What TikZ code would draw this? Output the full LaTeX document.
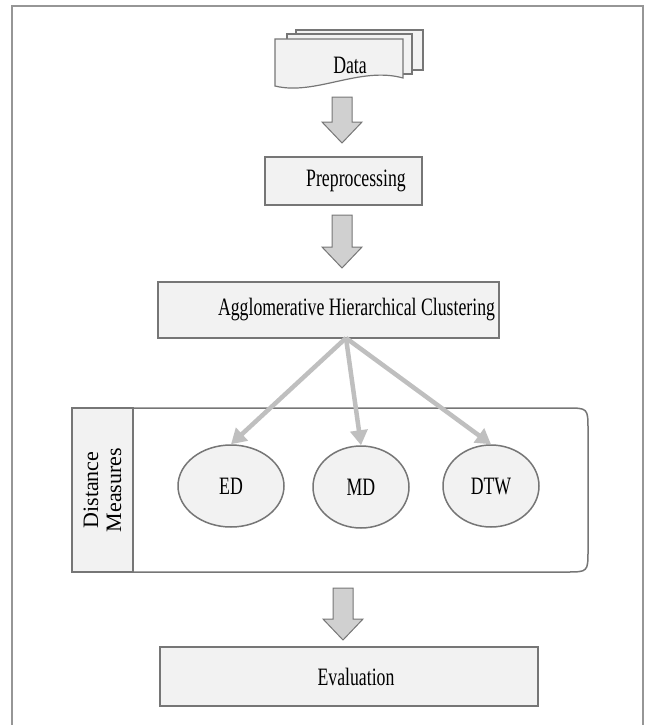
\documentclass[tikz,border=0pt]{standalone}
\usepackage{fontspec}
\setmainfont{Liberation Serif}[FakeStretch=0.71]
\newfontfamily\uprightserif{Liberation Serif}
\usetikzlibrary{arrows.meta,shapes.geometric,calc,positioning}
\definecolor{boxfill}{RGB}{242,242,242}
\definecolor{boxline}{RGB}{118,118,118}
\definecolor{arrowfill}{RGB}{208,208,208}
\definecolor{fanline}{RGB}{191,191,191}
\definecolor{frameline}{RGB}{150,150,150}
\tikzset{
  txt/.style={font=\fontsize{25}{27}\selectfont},
  procbox/.style={draw=boxline, fill=boxfill, line width=1.5pt, inner sep=0pt},
  oval/.style={ellipse, draw=boxline, fill=boxfill, line width=1.5pt, inner sep=0pt, txt},
  sheet/.style={draw=boxline, fill=boxfill, line width=1.2pt},
  blockarrow/.style={draw=boxline, fill=arrowfill, line width=1pt},
  fanarrow/.style={fanline, line width=4.5pt, -{Triangle[length=15pt,width=17pt]}}
}
\newcommand{\blockarrow}[2]{%
  \draw[blockarrow] ($(#1)+(-10,0)$) -- ($(#1)+(10,0)$) -- ($(#2)+(10,-21)$)
    -- ($(#2)+(20,-21)$) -- (#2) -- ($(#2)+(-20,-21)$) -- ($(#2)+(-10,-21)$) -- cycle;}

\begin{document}
\begin{tikzpicture}[x=1pt,y=-1pt]
\useasboundingbox (0,0) rectangle (646,725);
% Frame
\draw[frameline, line width=1.5pt] (12,725) -- (12,6) -- (643,6) -- (643,725);

% Data (stack of documents)
\draw[sheet] (296,30) rectangle (423,70);
\draw[sheet] (287,34) rectangle (412,74);
\draw[sheet] (275,39) -- (403,39) -- (403,78) .. controls (360,66) and (315,96) .. (275,86) -- cycle;
\node[txt] (data) at (350,65) {Data};

% Steps
\node[procbox, minimum width=157pt, minimum height=48pt,
  label={[txt, xshift=12.5pt]center:Preprocessing}] (prep) at (343.5,181) {};
\node[procbox, minimum width=341pt, minimum height=56pt,
  label={[txt, xshift=28pt]center:Agglomerative Hierarchical Clustering}] (ahc) at (328.5,310) {};
\node[procbox, minimum width=378pt, minimum height=59pt,
  label={[txt, xshift=7pt]center:Evaluation}] (eval) at (349,676.5) {};

% Block arrows
\coordinate (a1top) at (342,97);  \coordinate (a1tip) at (342,143);
\coordinate (a2top) at (342,215); \coordinate (a2tip) at (342,268);
\coordinate (a3top) at (343,588); \coordinate (a3tip) at (343,640);
\blockarrow{a1top}{a1tip}
\blockarrow{a2top}{a2tip}
\blockarrow{a3top}{a3tip}

% Distance measures panel
\draw[draw=boxline, fill=white, line width=1.5pt] (72,408) -- (566,408) .. controls (588,408) .. (588,430)
  -- (588,550) .. controls (588,572) .. (566,572) -- (72,572) -- cycle;
\node[procbox, minimum width=61pt, minimum height=164pt] (dmlabel) at (102.5,490) {};
\node[rotate=90, align=center, font=\uprightserif\fontsize{22}{23}\selectfont] at (dmlabel.center) {Distance\\Measures};

\node[oval, minimum width=106pt, minimum height=82pt] (ed) at (231,486) {ED};
\node[oval, minimum width=96pt, minimum height=82pt] (md) at (361,487) {MD};
\node[oval, minimum width=96pt, minimum height=82pt] (dtw) at (491,486) {DTW};

% Fan out
\coordinate (split) at (346,338);
\draw[fanarrow] (split) -- (ed.north);
\draw[fanarrow] (split) -- (md.north);
\draw[fanarrow] (split) -- (dtw.north);
\end{tikzpicture}
\end{document}
